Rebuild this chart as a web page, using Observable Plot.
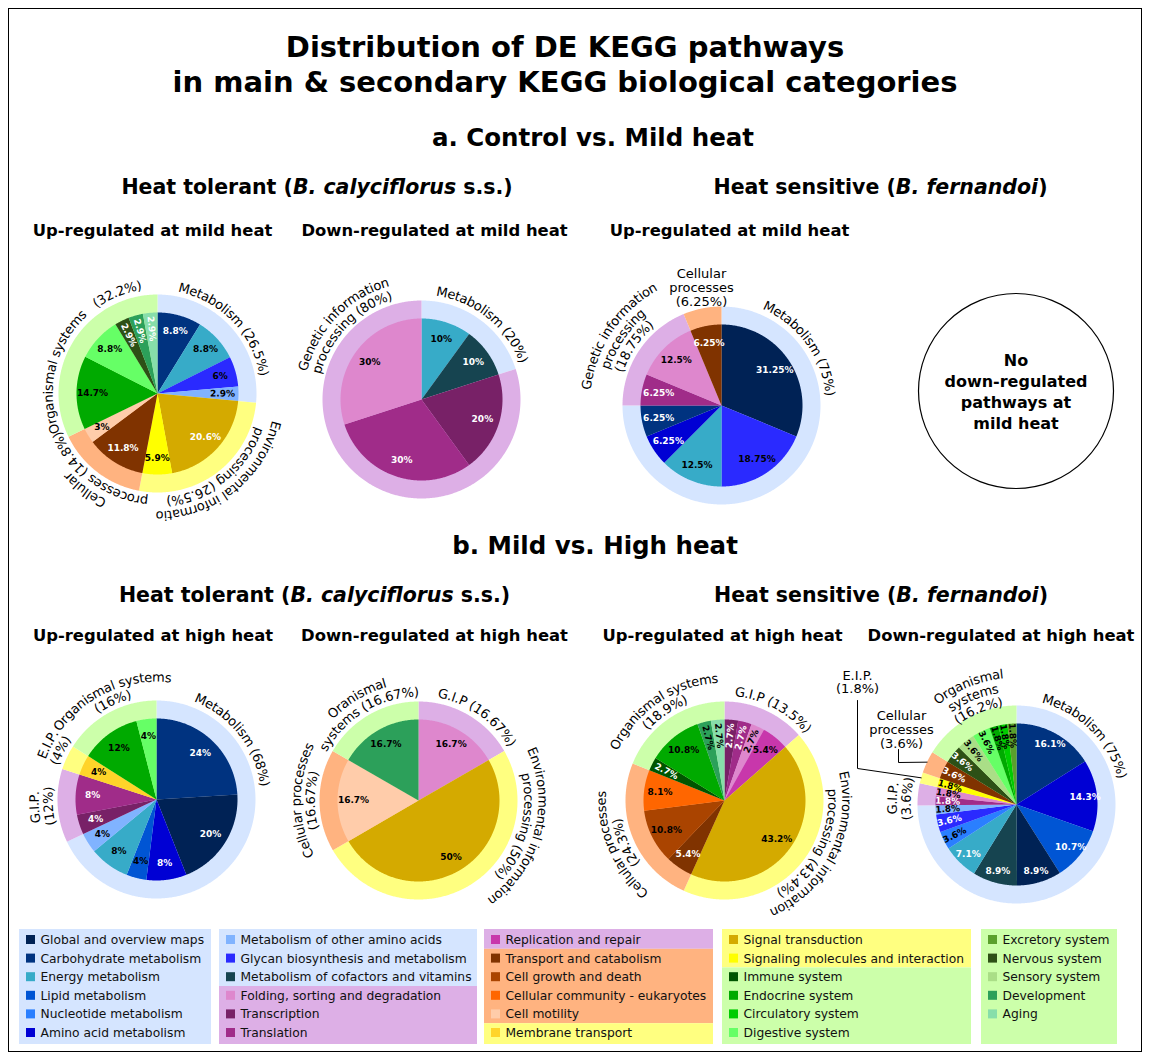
<!DOCTYPE html>
<html><head><meta charset="utf-8">
<script src="https://cdn.jsdelivr.net/npm/d3@7"></script>
<script src="https://cdn.jsdelivr.net/npm/@observablehq/plot@0.6"></script>
<style>html,body{margin:0;padding:0;background:#fff;overflow:hidden} svg{display:block}</style>
</head><body><div id="chart"></div>
<script>
// ================= DATA =================
const categoryNames = [
  "Global and overview maps","Carbohydrate metabolism","Energy metabolism","Lipid metabolism","Nucleotide metabolism","Amino acid metabolism",
  "Metabolism of other amino acids","Glycan biosynthesis and metabolism","Metabolism of cofactors and vitamins","Folding, sorting and degradation","Transcription","Translation",
  "Replication and repair","Transport and catabolism","Cell growth and death","Cellular community - eukaryotes","Cell motility","Membrane transport",
  "Signal transduction","Signaling molecules and interaction","Immune system","Endocrine system","Circulatory system","Digestive system",
  "Excretory system","Nervous system","Sensory system","Development","Aging"];
const categoryColors = [
  "#002255","#003380","#37abc8","#0055d4","#2a7fff","#0000d4",
  "#80b3ff","#2a2aff","#164450","#de87cd","#782167","#a02c89",
  "#c837ab","#803300","#aa4400","#ff6600","#ffccaa","#ffd42a",
  "#d4aa00","#ffff00","#005500","#00aa00","#00cc00","#66ff66",
  "#5aa02c","#2d5016","#aade87","#2ca05a","#87deaa"];
const categoryMain = [
  "Metabolism","Metabolism","Metabolism","Metabolism","Metabolism","Metabolism",
  "Metabolism","Metabolism","Metabolism","Genetic information processing","Genetic information processing","Genetic information processing",
  "Genetic information processing","Cellular processes","Cellular processes","Cellular processes","Cellular processes","Environmental information processing",
  "Environmental information processing","Environmental information processing","Organismal systems","Organismal systems","Organismal systems","Organismal systems",
  "Organismal systems","Organismal systems","Organismal systems","Organismal systems","Organismal systems"];
const mainNames = ["Metabolism","Genetic information processing","Environmental information processing","Cellular processes","Organismal systems"];
const mainColors = ["#d5e5ff","#ddafe6","#ffff80","#ffb380","#ccffaa"];

// a. Control vs Mild heat - Heat tolerant - up
const aTolUpPathways = ["Carbohydrate metabolism","Energy metabolism","Glycan biosynthesis and metabolism","Metabolism of other amino acids","Signal transduction","Signaling molecules and interaction","Transport and catabolism","Cell motility","Endocrine system","Digestive system","Nervous system","Development","Aging"];
const aTolUpValues = [8.8, 8.8, 6, 2.9, 20.6, 5.9, 11.8, 3, 14.7, 8.8, 2.9, 2.9, 2.9];
const aTolUpRingLabels = [["Metabolism (26.5%)"], ["Environmental informatio","processing (26.5%)"], ["Cellular","processes (14.8%)"], ["Organismal systems   (32.2%)"]];
// a. Heat tolerant - down
const aTolDownPathways = ["Energy metabolism","Metabolism of cofactors and vitamins","Transcription","Translation","Folding, sorting and degradation"];
const aTolDownValues = [10, 10, 20, 30, 30];
const aTolDownRingLabels = [["Metabolism (20%)"], ["Genetic information","processing (80%)"]];
// a. Heat sensitive - up
const aSensUpPathways = ["Global and overview maps","Glycan biosynthesis and metabolism","Energy metabolism","Amino acid metabolism","Carbohydrate metabolism","Translation","Folding, sorting and degradation","Transport and catabolism"];
const aSensUpValues = [31.25, 18.75, 12.5, 6.25, 6.25, 6.25, 12.5, 6.25];
const aSensUpRingLabels = [["Metabolism (75%)"], ["Genetic information","processing","(18.75%)"], ["Cellular","processes","(6.25%)"]];
const aSensDownNote = ["No","down-regulated","pathways at","mild heat"];
// b. Mild vs High heat - Heat tolerant - up
const bTolUpPathways = ["Carbohydrate metabolism","Global and overview maps","Amino acid metabolism","Lipid metabolism","Energy metabolism","Metabolism of other amino acids","Transcription","Translation","Membrane transport","Endocrine system","Digestive system"];
const bTolUpValues = [24, 20, 8, 4, 8, 4, 4, 8, 4, 12, 4];
const bTolUpRingLabels = [["Metabolism (68%)"], ["G.I.P.","(12%)"], ["E.I.P.","(4%)"], ["Organismal systems","(16%)"]];
// b. Heat tolerant - down
const bTolDownPathways = ["Folding, sorting and degradation","Signal transduction","Cell motility","Development"];
const bTolDownValues = [16.7, 50, 16.7, 16.7];
const bTolDownRingLabels = [["G.I.P (16.67%)"], ["Environmental information","processing (50%)"], ["Cellular processes","(16.67%)"], ["Oranismal","systems (16.67%)"]];
// b. Heat sensitive - up
const bSensUpPathways = ["Transcription","Translation","Folding, sorting and degradation","Replication and repair","Signal transduction","Transport and catabolism","Cell growth and death","Cellular community - eukaryotes","Immune system","Endocrine system","Development","Aging"];
const bSensUpValues = [2.7, 2.7, 2.7, 5.4, 43.2, 5.4, 10.8, 8.1, 2.7, 10.8, 2.7, 2.7];
const bSensUpRingLabels = [["G.I.P (13.5%)"], ["Environmental information","processing (43.4%)"], ["Cellular processes","(24.3%)"], ["Organismal systems","(18.9%)"]];
// b. Heat sensitive - down
const bSensDownPathways = ["Carbohydrate metabolism","Amino acid metabolism","Lipid metabolism","Global and overview maps","Metabolism of cofactors and vitamins","Energy metabolism","Nucleotide metabolism","Glycan biosynthesis and metabolism","Metabolism of other amino acids","Translation","Folding, sorting and degradation","Signaling molecules and interaction","Transport and catabolism","Nervous system","Sensory system","Digestive system","Endocrine system","Circulatory system","Excretory system"];
const bSensDownValues = [16.1, 14.3, 10.7, 8.9, 8.9, 7.1, 3.6, 3.6, 1.8, 1.8, 1.8, 1.8, 3.6, 3.6, 3.6, 3.6, 1.8, 1.8, 1.8];
const bSensDownRingLabels = [["Metabolism (75%)"], ["G.I.P.","(3.6%)"], ["E.I.P.","(1.8%)"], ["Cellular","processes","(3.6%)"], ["Organismal","systems","(16.2%)"]];

// text strings
const titleLines = ["Distribution of DE KEGG pathways", "in main & secondary KEGG biological categories"];
const sectionTitles = ["a. Control vs. Mild heat", "b. Mild vs. High heat"];
const speciesTolerant = [["Heat tolerant (", false], ["B. calyciflorus", true], [" s.s.)", false]];
const speciesSensitive = [["Heat sensitive (", false], ["B. fernandoi", true], [")", false]];
const panelTitlesA = ["Up-regulated at mild heat", "Down-regulated at mild heat", "Up-regulated at mild heat"];
const panelTitlesB = ["Up-regulated at high heat", "Down-regulated at high heat", "Up-regulated at high heat", "Down-regulated at high heat"];

// ================= STYLE (label ink per slice: w = white, b = black) =================
const aTolUpInk = "wbbbwbwbbbwww";
const aTolDownInk = "bwwwb";
const aSensUpInk = "wbbwwwbw";
const bTolUpInk = "wwwbbbwwbbb";
const bTolDownInk = "bbbb";
const bSensUpInk = "wwbbbwbbwbbb";
const bSensDownInk = "wwwwwwbwbwbbwwbbbbb";

// ================= LAYOUT =================
const W = 1150, H = 1052;
const FONT = "DejaVu Sans";
const R_OUT = 99, R_IN = 81, LINE = 14, RING_FS = 13, PCT_FS = 9;
const pies = [
  {path: aTolUpPathways, vals: aTolUpValues, ink: aTolUpInk, ring: aTolUpRingLabels, cx: 157, cy: 393, pr: 65, rotBelow: 3,
   lab: [{t: 46, r0: 108}, {t: 142, r0: 108}, {t: 217, r0: 108}, {t: 300, r0: 109}]},
  {path: aTolDownPathways, vals: aTolDownValues, ink: aTolDownInk, ring: aTolDownRingLabels, cx: 421, cy: 399, pr: 64, rotBelow: 0,
   lab: [{t: 39, r0: 109}, {t: 314, r0: 108}]},
  {path: aSensUpPathways, vals: aSensUpValues, ink: aSensUpInk, ring: aSensUpRingLabels, cx: 721, cy: 405, pr: 64, rotBelow: 0,
   lab: [{t: 54, r0: 109}, {t: 304, r0: 108}, {block: true, x: 701, y: 287}]},
  {path: bTolUpPathways, vals: bTolUpValues, ink: bTolUpInk, ring: bTolUpRingLabels, cx: 156, cy: 799, pr: 64, rotBelow: 0,
   lab: [{t: 52, r0: 109}, {t: 266.5, r0: 108}, {t: 297, r0: 108}, {t: 336, r0: 108}]},
  {path: bTolDownPathways, vals: bTolDownValues, ink: bTolDownInk, ring: bTolDownRingLabels, cx: 418, cy: 800, pr: 65, rotBelow: 0,
   lab: [{t: 35, r0: 109}, {t: 105, r0: 110}, {t: 270, r0: 108}, {t: 329, r0: 108}]},
  {path: bSensUpPathways, vals: bSensUpValues, ink: bSensUpInk, ring: bSensUpRingLabels, cx: 724, cy: 800, pr: 65, rotBelow: 3,
   lab: [{t: 28, r0: 109}, {t: 117, r0: 108}, {t: 247, r0: 109}, {t: 326, r0: 108}]},
  {path: bSensDownPathways, vals: bSensDownValues, ink: bSensDownInk, ring: bSensDownRingLabels, cx: 1016, cy: 804, pr: 69, rotBelow: 4,
   lab: [{t: 45, r0: 109}, {t: 273, r0: 110},
         {block: true, x: 857, y: 681.5, lx: 857, ly0: 700, ly1: 768},
         {block: true, x: 901, y: 729, lx: 898, ly0: 749, ly1: 762},
         {t: 338, r0: 103}]}
];
const noDown = {cx: 1015.5, cy: 390.5, r: 97.5};
const legendCols = [{x: 19, w: 192}, {x: 219, w: 258}, {x: 484, w: 229}, {x: 722, w: 249}, {x: 981, w: 136}];
const legendTop = 929, legendBottom = 1044, legendRow0 = 939.5, legendStep = 18.6, legendFS = 12.3;

// ================= BUILD =================
const ctx = document.createElement("canvas").getContext("2d");
function tw(s, font) { ctx.font = font; return ctx.measureText(s).width; }
const rad = d => d * Math.PI / 180;
const polar = (cx, cy, r, a) => [cx + r * Math.sin(a), cy - r * Math.cos(a)];

function addWedge(arr, cx, cy, r, a0, a1, id, color) {
  arr.push({x: cx, y: cy, id, color});
  const n = Math.max(2, Math.ceil((a1 - a0) / rad(0.5)));
  for (let i = 0; i <= n; i++) {
    const [x, y] = polar(cx, cy, r, a0 + (a1 - a0) * i / n);
    arr.push({x, y, id, color});
  }
}
function addArcText(arr, cx, cy, thetaDeg, r0, lines, fs) {
  const font = `${fs}px ${FONT}`;
  lines.forEach((line, i) => {
    const r = r0 + (lines.length - 1 - i) * LINE;
    const chars = [...line];
    const ws = chars.map(c => tw(c, font));
    const total = tw(line, font);
    const scale = total / d3.sum(ws);
    let cum = 0;
    const start = rad(thetaDeg) - total / (2 * r);
    chars.forEach((c, k) => {
      const w = ws[k] * scale;
      const phi = start + (cum + w / 2) / r;
      cum += w;
      if (c === " ") return;
      const [x, y] = polar(cx, cy, r, phi);
      arr.push({x, y, ch: c, rot: phi * 180 / Math.PI});
    });
  });
}

const ringPts = [], wedgePts = [], pctLabels = [], arcChars = [], blockLabels = [], leaders = [];
pies.forEach((p, pi) => {
  const total = d3.sum(p.vals);
  let acc = 0;
  const slices = p.vals.map((v, i) => {
    const a0 = acc / total * 2 * Math.PI; acc += v;
    const a1 = acc / total * 2 * Math.PI;
    const ci = categoryNames.indexOf(p.path[i]);
    return {v, a0, a1, color: categoryColors[ci], main: categoryMain[ci], ink: p.ink[i] === "w" ? "white" : "black"};
  });
  const segs = [];
  slices.forEach(s => {
    const last = segs[segs.length - 1];
    if (last && last.main === s.main) last.a1 = s.a1;
    else segs.push({main: s.main, a0: s.a0, a1: s.a1});
  });
  segs.forEach((s, si) => addWedge(ringPts, p.cx, p.cy, R_OUT, s.a0, s.a1, `r${pi}-${si}`, mainColors[mainNames.indexOf(s.main)]));
  slices.forEach((s, i) => {
    addWedge(wedgePts, p.cx, p.cy, R_IN, s.a0, s.a1, `w${pi}-${i}`, s.color);
    const mid = (s.a0 + s.a1) / 2;
    let rot = 0;
    if (s.v < p.rotBelow) {
      rot = ((mid * 180 / Math.PI + 90) % 360 + 360) % 360;
      if (rot > 90 && rot <= 270) rot -= 180; else if (rot > 270) rot -= 360;
    }
    const [x, y] = polar(p.cx, p.cy, p.pr, mid);
    pctLabels.push({x, y, text: `${s.v}%`, rot, ink: s.ink});
  });
  p.ring.forEach((lines, si) => {
    const L = p.lab[si], seg = segs[si];
    if (L.block) {
      blockLabels.push({x: L.x, y: L.y, text: lines.join("\n")});
      if (L.lx !== undefined) {
        const [ex, ey] = polar(p.cx, p.cy, R_OUT, (seg.a0 + seg.a1) / 2);
        leaders.push({x: L.lx, y: L.ly0, id: `${pi}-${si}`}, {x: L.lx, y: L.ly1, id: `${pi}-${si}`}, {x: ex, y: ey, id: `${pi}-${si}`});
      }
    } else {
      addArcText(arcChars, p.cx, p.cy, L.t, L.r0, lines, RING_FS);
    }
  });
});

// rich (bold + italic) heading segments
function richLine(segments, cx, y, fs, out) {
  const fonts = segments.map(([t, it]) => `${it ? "italic " : ""}bold ${fs}px ${FONT}`);
  const widths = segments.map(([t], i) => tw(t, fonts[i]));
  let x = cx - d3.sum(widths) / 2;
  segments.forEach(([t, it], i) => { out.push({x, y, text: t, italic: it, fs}); x += widths[i]; });
}
const headings = [];
titleLines.forEach((t, i) => headings.push({x: 564.5, y: 47 + i * 35, text: t, fs: 29}));
headings.push({x: 592.5, y: 138, text: sectionTitles[0], fs: 24.5});
headings.push({x: 594.5, y: 546, text: sectionTitles[1], fs: 24.5});
[152, 434, 729].forEach((x, i) => headings.push({x, y: 230, text: panelTitlesA[i], fs: 16.4}));
[152.5, 434, 722, 1000.5].forEach((x, i) => headings.push({x, y: 635, text: panelTitlesB[i], fs: 16.4}));
const richParts = [];
richLine(speciesTolerant, 316.5, 187, 20.5, richParts);
richLine(speciesSensitive, 880, 187, 20.5, richParts);
richLine(speciesTolerant, 314, 595, 20.5, richParts);
richLine(speciesSensitive, 880.5, 595, 20.5, richParts);

// legend
const legendItems = categoryNames.map((name, i) => {
  const col = Math.floor(i / 6), row = i % 6;
  return {name, color: categoryColors[i], main: categoryMain[i], col, row};
});
const legendBg = [];
legendCols.forEach((c, ci) => {
  const items = legendItems.filter(d => d.col === ci);
  const groups = [];
  items.forEach(d => { const g = groups[groups.length - 1]; if (g && g.main === d.main) g.last = d.row; else groups.push({main: d.main, first: d.row, last: d.row}); });
  groups.forEach((g, gi) => {
    const y1 = g.first === 0 ? legendTop : legendRow0 + legendStep * (g.first - 0.5);
    const y2 = gi === groups.length - 1 ? legendBottom : legendRow0 + legendStep * (g.last + 0.5);
    legendBg.push({x1: c.x, x2: c.x + c.w, y1, y2, color: mainColors[mainNames.indexOf(g.main)]});
  });
});
const legendSwatches = legendItems.map(d => {
  const c = legendCols[d.col], y = legendRow0 + legendStep * d.row;
  return {x1: c.x + 7, x2: c.x + 16, y1: y - 4.5, y2: y + 4.5, color: d.color, tx: c.x + 21, ty: y, name: d.name};
});

const frame = [{x1: 8.5, x2: 1141.5, y1: 8.5, y2: 1051.5}];

const chart = Plot.plot({
  width: W, height: H, margin: 0,
  x: {domain: [0, W], range: [0, W], axis: null},
  y: {domain: [0, H], range: [0, H], axis: null},
  color: {type: "identity"},
  style: {fontFamily: FONT, background: "white", color: "black"},
  marks: [
    Plot.rect(frame, {x1: "x1", x2: "x2", y1: "y1", y2: "y2", fill: "white", stroke: "black", strokeWidth: 1}),
    Plot.line(ringPts, {x: "x", y: "y", z: "id", fill: "color", stroke: "none"}),
    Plot.line(wedgePts, {x: "x", y: "y", z: "id", fill: "color", stroke: "none"}),
    Plot.text(pctLabels, {x: "x", y: "y", text: "text", rotate: "rot", fill: "ink", fontSize: PCT_FS, fontWeight: "bold", textAnchor: "middle", lineAnchor: "middle"}),
    Plot.text(arcChars, {x: "x", y: "y", text: "ch", rotate: "rot", fill: "black", fontSize: RING_FS, textAnchor: "middle", lineAnchor: "middle"}),
    Plot.text(blockLabels, {x: "x", y: "y", text: "text", fill: "black", fontSize: RING_FS, textAnchor: "middle", lineAnchor: "middle", lineHeight: 1.05}),
    Plot.line(leaders, {x: "x", y: "y", z: "id", stroke: "black", strokeWidth: 1}),
    Plot.dot([noDown], {x: "cx", y: "cy", r: noDown.r, fill: "white", stroke: "black", strokeWidth: 1.2}),
    Plot.text([noDown], {x: "cx", y: "cy", text: () => aSensDownNote.join("\n"), fontSize: 16, fontWeight: "bold", textAnchor: "middle", lineAnchor: "middle", lineHeight: 1.3, fill: "black"}),
    Plot.text(headings, {x: "x", y: "y", text: "text", fontSize: "fs", fontWeight: "bold", textAnchor: "middle", lineAnchor: "middle", fill: "black"}),
    Plot.text(richParts.filter(d => !d.italic), {x: "x", y: "y", text: "text", fontSize: "fs", fontWeight: "bold", textAnchor: "start", lineAnchor: "middle", fill: "black"}),
    Plot.text(richParts.filter(d => d.italic), {x: "x", y: "y", text: "text", fontSize: "fs", fontWeight: "bold", fontStyle: "italic", textAnchor: "start", lineAnchor: "middle", fill: "black"}),
    Plot.rect(legendBg, {x1: "x1", x2: "x2", y1: "y1", y2: "y2", fill: "color"}),
    Plot.rect(legendSwatches, {x1: "x1", x2: "x2", y1: "y1", y2: "y2", fill: "color"}),
    Plot.text(legendSwatches, {x: "tx", y: "ty", text: "name", fontSize: legendFS, textAnchor: "start", lineAnchor: "middle", fill: "#111"})
  ]
});
document.getElementById("chart").append(chart);
</script>
</body></html>
